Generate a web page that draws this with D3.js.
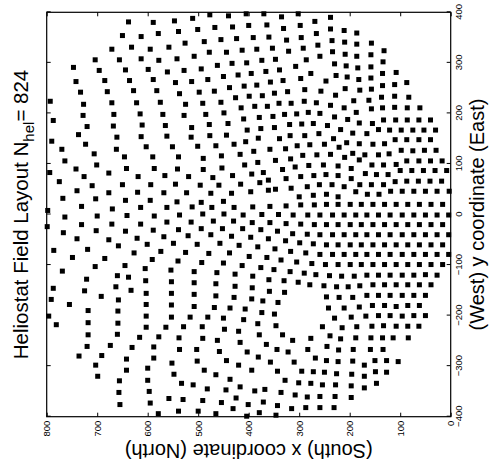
<!DOCTYPE html>
<html><head><meta charset="utf-8">
<script src="https://cdn.jsdelivr.net/npm/d3@7"></script>
<style>body{margin:0;background:#fff}svg{display:block}</style>
</head><body>
<script>
// Heliostat positions: x = South->North coordinate, y = West->East coordinate
const xNorth = [
638,650,613,671,632,704,656,613,747,696,644,742,685,636,733,680,628,793,727,671,622,
589,547,511,477,440,405,579,539,501,467,432,400,595,558,526,488,455,424,578,542,508,478,444,413,
599,561,528,494,462,433,404,589,545,513,481,450,421,582,537,498,468,438,409,575,525,491,455,426,399,415,
370,302,335,238,269,364,298,331,238,211,266,391,360,296,325,235,210,263,384,353,292,321,234,209,259,
374,347,286,230,207,307,366,339,277,395,227,205,297,357,332,247,384,289,257,209,349,323,373,228,
340,316,290,266,388,363,238,211,
186,186,157,186,158,132,184,158,134,182,158,135,108,180,157,135,111,87,192,162,137,111,83,135,111,86,61,
728,667,615,787,720,668,611,737,661,613,790,723,662,603,770,706,646,764,701,794,742,677,642,726,619,
775,710,650,740,677,620,768,703,644,731,670,614,798,
570,528,485,449,565,513,478,562,514,477,551,501,465,590,539,490,454,587,541,490,453,566,519,471,
594,545,496,459,568,523,475,595,542,494,450,562,512,473,
410,379,352,329,305,282,259,230,204,187,181,157,155,133,109,86,63,
441,403,376,349,319,295,272,244,218,194,166,143,121,98,75,53,
444,406,381,339,318,289,261,232,206,181,154,131,110,87,63,
429,390,358,327,304,279,250,221,194,170,143,122,98,75,52,
417,382,347,317,293,265,238,210,181,156,133,108,87,63,
408,371,333,308,281,252,223,197,169,147,124,100,77,54,
432,394,361,326,297,271,247,223,197,180,157,133,110,87,64,
416,378,347,316,284,260,235,211,188,165,142,119,96,73,50,
434,396,361,300,272,246,223,
40,30,40,29,40,17,31,8,41,18,27,3,
429,392,358,326,297,270,246,223,199,177,154,131,108,85,62,39,16,
449,411,374,341,312,283,259,234,211,188,166,143,120,96,73,50,27,4,
430,393,358,326,297,270,246,223,199,177,154,131,108,85,62,39,16,
452,412,376,343,313,284,259,234,211,188,166,143,120,96,73,50,27,4,
434,396,361,327,299,272,246,223,199,177,154,131,108,85,62,39,16,
457,419,382,348,317,287,259,234,211,188,166,143,120,96,73,50,27,4,
438,399,364,336,305,275,248,223,199,177,154,131,108,85,62,39,16,
450,413,376,350,318,290,267,240,216,191,166,143,120,96,73,50,27,
427,392,360,330,302,279,251,226,203,180,154,131,108,85,62,39,
427,393,359,329,246,221,194,166,143,120,96,73,50,
429,394,372,342,242,211,181,155,131,108,85,62,
437,407,374,349,230,197,168,143,120,96,73,50,
450,410,382,346,254,215,186,156,133,108,85,63,
448,420,379,333,313,277,239,218,188,158,135,114,84,
417,403,365,344,322,283,245,222,193,159,134,
444,420,394,381,357,310,268,246,223,194,171,150,127,104,
437,343,328,295,272,250,226,196,171,149,127,
417,388,368,336,301,277,254,228,197,171,147,
445,425,454,308,284,259,229,197,
764,700,641,587,537,491,799,731,671,614,562,514,470,767,702,644,589,539,494,
740,677,621,568,520,475,786,719,658,601,549,502,749,685,627,574,525,479,
769,704,645,591,540,493,721,660,638,605,554,508,463,787,725,663,633,604,553,508,465,
791,692,658,603,553,508,465,755,718,659,603,553,508,468,796,781,718,659,603,553,516,481,
718,660,603,564,529,492,720,736,674,616,578,538,491,462,691,631,588,537,503,
703,642,588,552,502,699,642,600,548,510,488,465,656,600,533,482,657,597,558,530,491,458,
655,595,579,539,500,465,431,401,404,379,371,346,343,315,287,259,231
];
const yEast = [
381,354,352,327,331,306,306,308,291,285,286,263,265,265,242,243,245,224,218,221,221,
380,383,388,395,393,397,358,362,366,370,371,374,327,331,339,342,346,348,305,308,313,321,321,325,
287,282,285,288,295,299,300,267,261,263,267,273,276,245,239,242,244,251,254,222,218,220,222,231,234,211,
397,397,391,390,382,375,374,368,367,364,358,350,351,350,345,344,341,335,327,329,329,323,322,317,313,
305,307,306,298,294,293,283,286,279,279,275,272,269,262,265,264,256,247,244,249,240,243,235,236,
220,220,224,221,214,214,216,211,
359,337,339,313,316,324,290,292,302,267,270,279,281,246,248,255,257,261,225,226,232,234,232,211,212,211,211,
196,198,199,186,174,175,177,158,153,154,145,139,129,134,129,120,114,106,98,83,90,82,91,75,75,
65,57,59,47,43,44,32,31,28,16,11,14,8,
198,196,198,201,176,172,178,155,153,156,134,135,136,114,114,111,116,91,90,89,92,77,75,73,
59,60,58,58,43,43,42,28,25,24,26,14,15,14,
189,192,194,198,199,202,200,193,188,202,181,209,180,187,187,187,187,
180,167,170,172,178,179,180,176,168,161,160,168,167,167,167,167,
157,144,151,150,156,156,160,150,142,140,139,140,148,148,148,
139,125,129,130,136,138,139,133,121,118,118,120,127,126,127,
119,103,107,110,117,118,119,113,108,98,98,99,106,106,
98,83,89,94,97,98,96,91,81,79,79,87,87,87,
77,80,68,71,75,77,79,77,71,59,59,59,65,66,66,
60,63,50,52,55,59,59,55,45,40,40,46,46,46,46,
42,45,48,35,38,40,35,
187,167,148,127,106,106,87,87,66,66,46,46,
14,15,16,17,19,19,20,20,20,20,20,20,20,20,20,20,20,
1,-1,0,0,-1,-1,-1,-1,-1,-1,-1,-1,-1,-1,-1,-1,-1,-1,
-13,-16,-16,-18,-19,-20,-20,-20,-20,-20,-20,-20,-20,-20,-20,-20,-20,
-28,-28,-30,-33,-38,-39,-40,-40,-40,-40,-40,-40,-40,-40,-40,-40,-40,-40,
-43,-45,-48,-52,-56,-58,-60,-60,-60,-60,-60,-60,-60,-60,-60,-60,-60,
-57,-61,-64,-68,-73,-76,-79,-79,-79,-79,-79,-79,-79,-79,-79,-79,-79,-79,
-76,-83,-85,-90,-94,-97,-99,-99,-99,-99,-99,-99,-99,-99,-99,-99,-99,
-96,-101,-105,-109,-113,-116,-119,-121,-122,-122,-120,-120,-120,-120,-120,-119,-120,
-118,-122,-129,-131,-134,-139,-141,-143,-143,-141,-139,-139,-139,-139,-139,-139,
-142,-145,-152,-154,-163,-164,-164,-160,-160,-160,-160,-160,-160,
-164,-167,-171,-174,-185,-185,-183,-180,-180,-182,-180,-180,
-185,-187,-194,-197,-205,-203,-201,-200,-200,-201,-200,-200,
-205,-208,-216,-220,-222,-224,-222,-221,-220,-221,-221,-221,
-227,-231,-238,-238,-249,-245,-240,-246,-244,-244,-244,-244,-244,
-253,-272,-257,-267,-272,-267,-261,-268,-267,-267,-267,
-289,-298,-308,-282,-292,-292,-284,-289,-291,-290,-298,-289,-289,-291,
-326,-310,-328,-310,-311,-312,-315,-316,-320,-311,-312,
-341,-349,-346,-352,-333,-334,-337,-337,-339,-343,-334,
-347,-363,-372,-357,-361,-360,-360,-362,
-5,-3,-2,-3,-1,1,-24,-20,-19,-19,-15,-15,-13,-36,-32,-33,-31,-30,-28,
-48,-50,-47,-44,-42,-40,-71,-69,-62,-59,-57,-59,-85,-87,-76,-73,-75,-77,
-112,-103,-101,-89,-92,-95,-128,-121,-124,-107,-110,-113,-115,-146,-151,-143,-150,-131,-133,-135,-137,
-168,-162,-169,-156,-156,-158,-161,-178,-190,-191,-178,-179,-182,-184,-201,-218,-214,-215,-201,-203,-203,-203,
-238,-237,-223,-223,-222,-222,-261,-280,-259,-243,-242,-244,-245,-249,-279,-263,-262,-267,-267,
-298,-286,-284,-294,-290,-320,-308,-304,-316,-337,-308,-317,-329,-328,-334,-345,-352,-350,-364,-366,-368,-271,
-376,-373,-394,-389,-389,-394,-384,-376,-399,-392,-371,-397,-378,-384,-382,-382,-382
];
const xTicks = [0,100,200,300,400,500,600,700,800];
const yTicks = [-400,-300,-200,-100,0,100,200,300,400];
const titleMain = "Heliostat Field Layout N";
const titleSub = "hel";
const titleEnd = "= 824";
const xLabel = "(South) x coordinate (North)";
const yLabel = "(West) y coordinate (East)";

const W = 489, H = 467;
const FONT = "'Liberation Sans', Arial, Helvetica, sans-serif";
const svg = d3.select("body").append("svg").attr("width", W).attr("height", H);

// The chart is drawn in its natural orientation and then turned a quarter turn counter-clockwise
const g = svg.append("g").attr("transform", `translate(0,${H}) rotate(-90)`);
const u = d3.scaleLinear().domain([-400, 400]).range([50.3, 454.7]); // y (East)
const v = d3.scaleLinear().domain([0, 800]).range([450.7, 46.7]);    // x (North)
const fmt = d => d < 0 ? "\u2212" + Math.abs(d) : String(d);

const n = Math.min(xNorth.length, yEast.length);
const pts = d3.range(n).map(i => ({x: xNorth[i], y: yEast[i]}));
g.append("g").selectAll("rect").data(pts).join("rect")
  .attr("x", d => u(d.y) - 2.5).attr("y", d => v(d.x) - 2.5)
  .attr("width", 5).attr("height", 5).attr("fill", "#000");

function styleAxis(sel) {
  sel.select(".domain").remove();
  sel.selectAll("line").attr("stroke", "#000").attr("stroke-width", 1);
  sel.selectAll("text").attr("font-family", FONT).attr("font-size", 9.5).attr("fill", "#000");
}
const tk = 4;
g.append("g").attr("transform", `translate(0,${v(0)})`)
  .call(d3.axisBottom(u).tickValues(yTicks).tickFormat(fmt).tickSizeInner(-tk).tickSizeOuter(0).tickPadding(5))
  .call(styleAxis);
g.append("g").attr("transform", `translate(0,${v(800)})`)
  .call(d3.axisTop(u).tickValues(yTicks).tickFormat("").tickSizeInner(-tk).tickSizeOuter(0))
  .call(styleAxis);
g.append("g").attr("transform", `translate(${u(-400)},0)`)
  .call(d3.axisLeft(v).tickValues(xTicks).tickFormat(fmt).tickSizeInner(-tk).tickSizeOuter(0).tickPadding(4))
  .call(styleAxis);
g.append("g").attr("transform", `translate(${u(400)},0)`)
  .call(d3.axisRight(v).tickValues(xTicks).tickFormat("").tickSizeInner(-tk).tickSizeOuter(0))
  .call(styleAxis);

g.append("rect").attr("x", u(-400)).attr("y", v(800))
  .attr("width", u(400) - u(-400)).attr("height", v(0) - v(800))
  .attr("fill", "none").attr("stroke", "#000").attr("stroke-width", 1.2);

const t = g.append("text").attr("x", (u(-400) + u(400)) / 2).attr("y", 27.5)
  .attr("text-anchor", "middle").attr("font-family", FONT).attr("font-size", 20.5).attr("fill", "#000");
t.append("tspan").text(titleMain);
t.append("tspan").attr("font-size", 15).attr("dy", 6).text(titleSub);
t.append("tspan").attr("dy", -6).text(titleEnd);

g.append("text").attr("x", (u(-400) + u(400)) / 2).attr("y", 484)
  .attr("text-anchor", "middle").attr("font-family", FONT).attr("font-size", 20).attr("fill", "#000")
  .text(yLabel);
g.append("text").attr("transform", `translate(23,${(v(0) + v(800)) / 2}) rotate(-90)`)
  .attr("text-anchor", "middle").attr("font-family", FONT).attr("font-size", 20).attr("fill", "#000")
  .text(xLabel);
</script>
</body></html>
